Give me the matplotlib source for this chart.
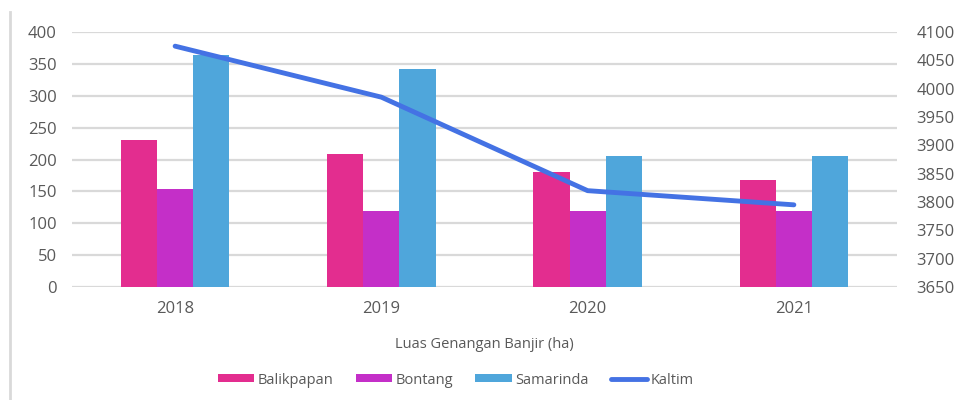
import matplotlib
matplotlib.use("Agg")
import matplotlib.pyplot as plt
import numpy as np
from matplotlib.patches import Patch
from matplotlib.lines import Line2D

years = ["2018", "2019", "2020", "2021"]
balikpapan = [230, 209, 180, 168]
bontang = [153, 119, 119, 119]
samarinda = [364, 342, 206, 206]
kaltim = [4075, 3985, 3820, 3795]

c_balik = "#E32D8F"
c_bont = "#C42FC8"
c_sama = "#4FA6DB"
c_kalt = "#4472E4"
grid_c = "#D9D9D9"
txt_c = "#595959"

plt.rcParams["font.family"] = ["Open Sans", "DejaVu Sans"]

W, H = 958, 400
fig = plt.figure(figsize=(W / 100, H / 100), dpi=100)
ax = fig.add_axes([72 / W, (H - 287) / H, 825 / W, 255 / H])

x = np.arange(len(years))
bw = 0.175
ax.bar(x - bw, balikpapan, bw, color=c_balik, zorder=2)
ax.bar(x, bontang, bw, color=c_bont, zorder=2)
ax.bar(x + bw, samarinda, bw, color=c_sama, zorder=2)

ax.set_xlim(-0.5, len(years) - 0.5)
ax.set_ylim(0, 400)
ax.set_yticks(np.arange(0, 401, 50))
ax.set_xticks(x)
ax.set_xticklabels(years)
ax.yaxis.grid(True, color=grid_c, linewidth=1.6, zorder=0)
ax.set_axisbelow(True)
for s in ax.spines.values():
    s.set_visible(False)
ax.tick_params(axis="both", length=0, labelsize=12, colors=txt_c)
ax.tick_params(axis="y", pad=11)
ax.tick_params(axis="x", pad=10)

ax2 = ax.twinx()
ax2.plot(x, kaltim, color=c_kalt, linewidth=3.5, solid_capstyle="round", zorder=3)
ax2.set_ylim(3650, 4100)
ax2.set_yticks(np.arange(3650, 4101, 50))
for s in ax2.spines.values():
    s.set_visible(False)
ax2.tick_params(axis="y", length=0, labelsize=12, colors=txt_c, pad=14)

fig.text(484 / W, 1 - 344 / H, "Luas Genangan Banjir (ha)", ha="center", va="center",
         fontsize=10.5, color=txt_c)

handles = [
    Patch(facecolor=c_balik, edgecolor="none"),
    Patch(facecolor=c_bont, edgecolor="none"),
    Patch(facecolor=c_sama, edgecolor="none"),
    Line2D([0], [0], color=c_kalt, linewidth=3.5, solid_capstyle="round"),
]
labels = ["Balikpapan", "Bontang", "Samarinda", "Kaltim"]
leg = fig.legend(handles, labels, loc="center", bbox_to_anchor=(456 / W, 1 - 380 / H),
                 ncol=4, frameon=False, fontsize=10.5, handlelength=2.5,
                 handleheight=0.45, handletextpad=0.25, columnspacing=1.5,
                 labelcolor=txt_c)

fig.add_artist(Line2D([10 / W, 10 / W], [0, 1 - 12 / H], transform=fig.transFigure,
                      color=grid_c, linewidth=2))

fig.savefig("out.png", dpi=100, facecolor="white")
